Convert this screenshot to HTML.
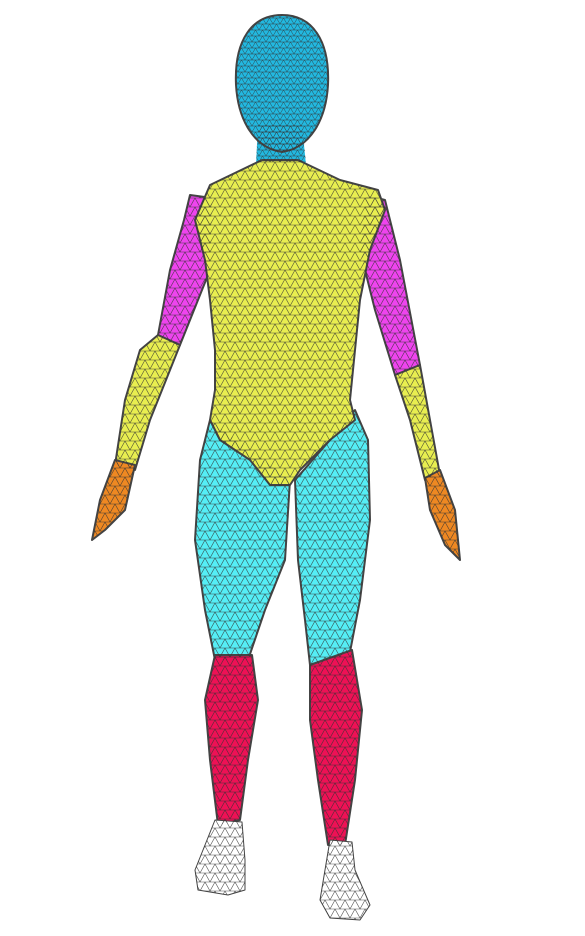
<!DOCTYPE html>
<html><head><meta charset="utf-8"><style>
html,body{margin:0;padding:0;background:#fff;}
svg{display:block;}
</style></head><body>
<svg width="585" height="936" viewBox="0 0 585 936">
<defs>
<pattern id="mesh" width="10" height="9" patternUnits="userSpaceOnUse">
<path d="M0 0H10M0 9H10M0 9L5 0L10 9M5 0L0 -9M5 0L10 -9M0 0L-5 9" stroke="#333" stroke-width="0.6" fill="none"/>
</pattern>
<pattern id="meshfine" width="7" height="6" patternUnits="userSpaceOnUse">
<path d="M0 0H7M0 6H7M0 6L3.5 0L7 6" stroke="#333" stroke-width="0.5" fill="none"/>
</pattern>
</defs>
<g stroke="#444" stroke-width="2" stroke-linejoin="round">
<polygon points="258,125 302,125 306,165 256,165" fill="#22b8e0" stroke="none"/>
<path d="M282 15 C312 15 330 40 328 85 C326 120 310 148 282 152 C254 148 238 120 236 85 C234 40 252 15 282 15 Z" fill="#22b8e0"/>
<polygon points="190,195 212,198 210,270 180,345 158,335 170,270 184,220" fill="#ee44ee"/>
<polygon points="158,335 180,345 150,420 135,470 115,465 125,400 140,350" fill="#e8ee50"/>
<polygon points="115,460 135,465 125,510 105,530 92,540 100,500" fill="#ee8822"/>
<polygon points="366,195 385,200 400,260 420,365 395,375 375,310 360,250" fill="#ee44ee"/>
<polygon points="395,375 420,365 430,420 440,475 425,480 410,420" fill="#e8ee50"/>
<polygon points="425,478 440,470 455,510 460,560 445,545 430,510" fill="#ee8822"/>
<polygon points="210,420 250,450 290,480 285,560 265,610 248,660 215,660 205,610 195,540 200,460" fill="#55eef5"/>
<polygon points="355,410 368,440 370,520 360,600 350,652 310,665 305,620 298,560 295,480 330,440" fill="#55eef5"/>
<polygon points="262,160 298,160 340,180 378,190 385,210 370,250 360,300 355,350 350,400 355,420 330,440 300,470 290,485 270,485 250,460 220,440 210,420 215,390 215,350 210,300 205,260 195,220 210,185" fill="#e8ee50"/>
<polygon points="215,655 252,655 258,700 248,760 240,820 218,825 210,760 205,700" fill="#ee1155"/>
<polygon points="310,665 352,650 362,710 355,780 345,845 328,845 318,780 310,720" fill="#ee1155"/>
<polygon points="215,820 242,822 245,860 245,890 228,895 198,890 195,870 205,845" fill="#fff" stroke-width="1"/>
<polygon points="330,840 352,842 355,870 370,905 360,920 330,918 320,900 325,870" fill="#fff" stroke-width="1"/>
</g>
<g fill="url(#mesh)" stroke="none" opacity="0.85">
<polygon points="190,195 212,198 210,270 180,345 158,335 170,270 184,220"/>
<polygon points="158,335 180,345 150,420 135,470 115,465 125,400 140,350"/>
<polygon points="115,460 135,465 125,510 105,530 92,540 100,500"/>
<polygon points="366,195 385,200 400,260 420,365 395,375 375,310 360,250"/>
<polygon points="395,375 420,365 430,420 440,475 425,480 410,420"/>
<polygon points="425,478 440,470 455,510 460,560 445,545 430,510"/>
<polygon points="210,420 250,450 290,480 285,560 265,610 248,660 215,660 205,610 195,540 200,460"/>
<polygon points="355,410 368,440 370,520 360,600 350,652 310,665 305,620 298,560 295,480 330,440"/>
<polygon points="262,160 298,160 340,180 378,190 385,210 370,250 360,300 355,350 350,400 355,420 330,440 300,470 290,485 270,485 250,460 220,440 210,420 215,390 215,350 210,300 205,260 195,220 210,185"/>
<polygon points="215,655 252,655 258,700 248,760 240,820 218,825 210,760 205,700"/>
<polygon points="310,665 352,650 362,710 355,780 345,845 328,845 318,780 310,720"/>
<polygon points="215,820 242,822 245,860 245,890 228,895 198,890 195,870 205,845"/>
<polygon points="330,840 352,842 355,870 370,905 360,920 330,918 320,900 325,870"/>
</g>
<g fill="url(#meshfine)" opacity="0.9">
<path d="M282 15 C312 15 330 40 328 85 C326 120 310 148 282 152 C254 148 238 120 236 85 C234 40 252 15 282 15 Z"/>
<polygon points="258,125 302,125 306,162 256,162"/>
</g>
</svg>
</body></html>
